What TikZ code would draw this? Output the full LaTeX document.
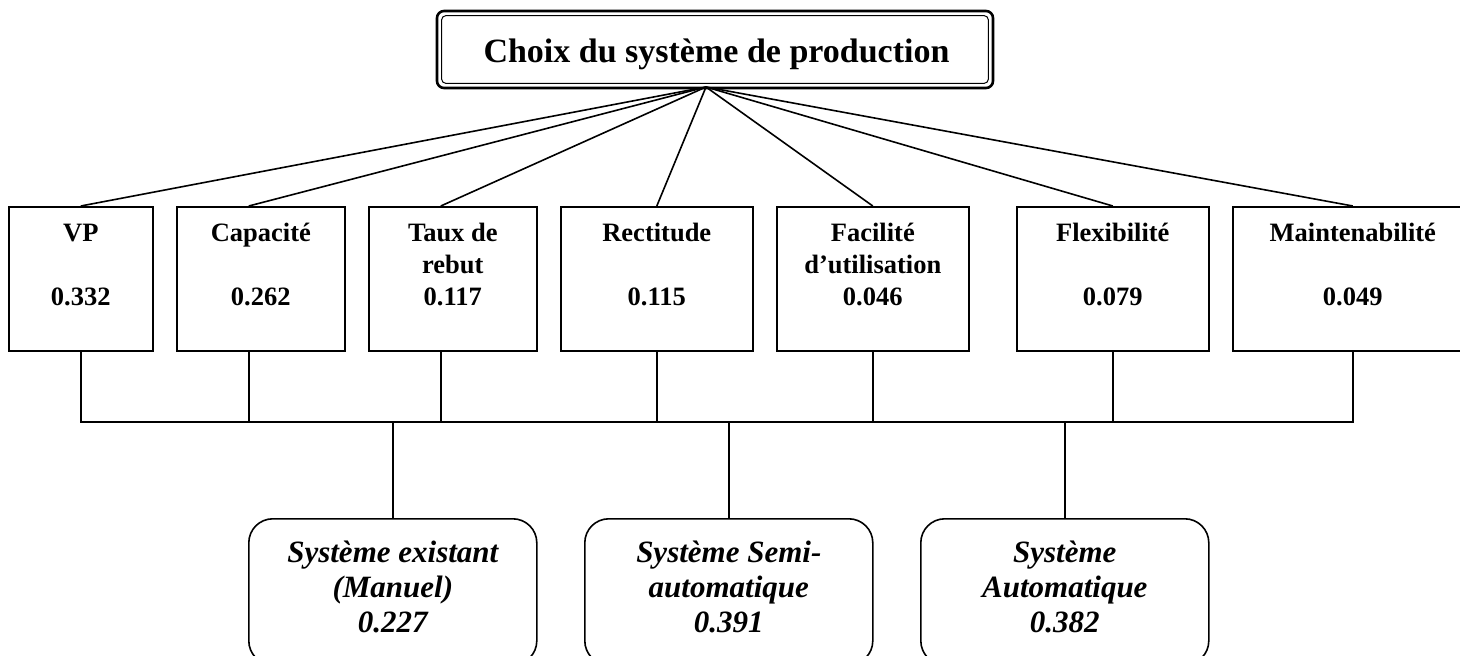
\documentclass[tikz,border=0pt]{standalone}
\usepackage{fontspec}
\setmainfont{Liberation Serif}
\begin{document}
\begin{tikzpicture}[x=1pt,y=-1pt,
  ln/.style={line width=1.6pt},
  critbox/.style={draw, line width=1.6pt, anchor=north west, inner sep=0pt, minimum height=144pt},
  crittext/.style={anchor=north, align=center, inner sep=0pt, font=\bfseries\fontsize{26.5}{32}\selectfont},
  altbox/.style={draw, line width=1.6pt, rounded corners=24pt, anchor=north west, inner sep=0pt, minimum width=288pt, minimum height=146pt},
  alttext/.style={anchor=north, align=center, inner sep=0pt, font=\bfseries\itshape\fontsize{31}{35}\selectfont}
]
\useasboundingbox (0,0) rectangle (1460,656);
\clip (0,0) rectangle (1460,656);

% title
\node[draw, line width=2.6pt, rounded corners=7pt, minimum width=556pt, minimum height=77pt, inner sep=0pt] (titlebox) at (715,49.5) {};
\draw[line width=1pt, rounded corners=4pt] ([xshift=6pt,yshift=-6pt]titlebox.north west) rectangle ([xshift=-6pt,yshift=6pt]titlebox.south east);
\node[anchor=base, inner sep=0pt, font=\bfseries\fontsize{34}{40}\selectfont] (titletext) at (716.5,62) {Choix du système de production};
\coordinate (apex) at (706,87);

% criteria boxes
\node[critbox, minimum width=144pt] (vp)    at (8,206) {};
\node[critbox, minimum width=168pt] (cap)   at (176,206) {};
\node[critbox, minimum width=168pt] (taux)  at (368,206) {};
\node[critbox, minimum width=192pt] (rect)  at (560,206) {};
\node[critbox, minimum width=192pt] (fac)   at (776,206) {};
\node[critbox, minimum width=192pt] (flex)  at (1016,206) {};
\node[critbox, minimum width=240pt] (maint) at (1232,206) {};

\node[crittext] (vpT)    at ([yshift=-9pt]vp.north)    {\rule{0pt}{26pt}VP\\\mbox{}\\0.332};
\node[crittext] (capT)   at ([yshift=-9pt]cap.north)   {\rule{0pt}{26pt}Capacité\\\mbox{}\\0.262};
\node[crittext] (tauxT)  at ([yshift=-9pt]taux.north)  {\rule{0pt}{26pt}Taux de\\rebut\\0.117};
\node[crittext] (rectT)  at ([yshift=-9pt]rect.north)  {\rule{0pt}{26pt}Rectitude\\\mbox{}\\0.115};
\node[crittext] (facT)   at ([yshift=-9pt]fac.north)   {\rule{0pt}{26pt}Facilité\\d’utilisation\\0.046};
\node[crittext] (flexT)  at ([yshift=-9pt]flex.north)  {\rule{0pt}{26pt}Flexibilité\\\mbox{}\\0.079};
\node[crittext] (maintT) at ([yshift=-9pt]maint.north) {\rule{0pt}{26pt}Maintenabilité\\\mbox{}\\0.049};

% alternatives
\node[altbox] (alt1) at (248,518) {};
\node[altbox] (alt2) at (584,518) {};
\node[altbox] (alt3) at (920,518) {};
\node[alttext] (alt1T) at ([yshift=-14pt]alt1.north) {\rule{0pt}{30pt}Système existant\\(Manuel)\\0.227};
\node[alttext] (alt2T) at ([yshift=-14pt]alt2.north) {\rule{0pt}{30pt}Système Semi-\\automatique\\0.391};
\node[alttext] (alt3T) at ([yshift=-14pt]alt3.north) {\rule{0pt}{30pt}Système\\Automatique\\0.382};

% top connectors
\draw[ln] (apex) -- (vp.north);
\draw[ln] (apex) -- ([xshift=-12pt]cap.north);
\draw[ln] (apex) -- ([xshift=-12pt]taux.north);
\draw[ln] (apex) -- (rect.north);
\draw[ln] (apex) -- (fac.north);
\draw[ln] (apex) -- (flex.north);
\draw[ln] (apex) -- (maint.north);

% bus
\coordinate (bus) at (0,422);
\draw[ln] (vp.south) -- (vp.south |- bus) -- (maint.south |- bus) -- (maint.south);
\draw[ln] ([xshift=-12pt]cap.south) -- ([xshift=-12pt]cap.south |- bus);
\draw[ln] ([xshift=-12pt]taux.south) -- ([xshift=-12pt]taux.south |- bus);
\draw[ln] (rect.south) -- (rect.south |- bus);
\draw[ln] (fac.south) -- (fac.south |- bus);
\draw[ln] (flex.south) -- (flex.south |- bus);
\draw[ln] (alt1.north) -- (alt1.north |- bus);
\draw[ln] (alt2.north) -- (alt2.north |- bus);
\draw[ln] (alt3.north) -- (alt3.north |- bus);
\end{tikzpicture}
\end{document}
